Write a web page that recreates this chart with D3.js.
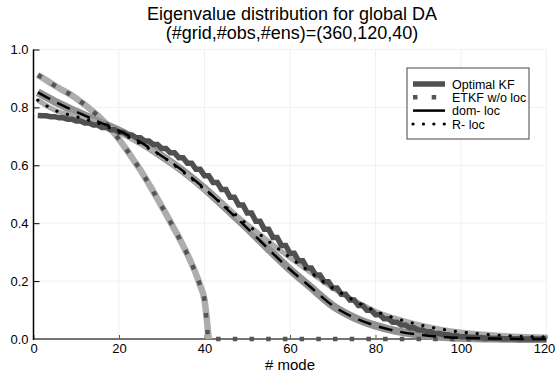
<!DOCTYPE html>
<html>
<head>
<meta charset="utf-8">
<script src="https://cdn.jsdelivr.net/npm/d3@7"></script>
<style>
  body { margin: 0; background: #fff; }
  svg { display: block; font-family: "Liberation Sans", Arial, sans-serif; }
</style>
</head>
<body>
<svg id="chart" width="556" height="373"></svg>
<script>
// eigenvalues
const modes = d3.range(1, 121);
const optimalKF = [
  0.772,
  0.771, 0.771, 0.768, 0.768, 0.764, 0.764, 0.759, 0.759, 0.753, 0.753,
  0.746, 0.746, 0.739, 0.739, 0.731, 0.731, 0.723, 0.723, 0.714, 0.714,
  0.705, 0.705, 0.695, 0.695, 0.684, 0.684, 0.672, 0.672, 0.658, 0.658,
  0.643, 0.643, 0.626, 0.626, 0.607, 0.607, 0.586, 0.586, 0.564, 0.564,
  0.541, 0.541, 0.516, 0.516, 0.490, 0.490, 0.463, 0.463, 0.435, 0.435,
  0.407, 0.407, 0.379, 0.379, 0.351, 0.351, 0.323, 0.323, 0.296, 0.296,
  0.270, 0.270, 0.245, 0.245, 0.221, 0.221, 0.198, 0.198, 0.176, 0.176,
  0.155, 0.155, 0.135, 0.135, 0.116, 0.116, 0.099, 0.099, 0.084, 0.084,
  0.070, 0.070, 0.058, 0.058, 0.048, 0.048, 0.039, 0.039, 0.031, 0.031,
  0.025, 0.025, 0.019, 0.019, 0.015, 0.015, 0.011, 0.011, 0.008, 0.008,
  0.006, 0.006, 0.004, 0.004, 0.003, 0.003, 0.002, 0.002, 0.001, 0.001,
  0.001, 0.001, 0, 0, 0, 0, 0, 0,
  0
];

const etkfModes = d3.range(1, 42).concat([120]);
const etkf = [
  0.912, 0.903, 0.894, 0.884, 0.875, 0.866, 0.858, 0.850, 0.841, 0.831,
  0.820, 0.809, 0.797, 0.785, 0.772, 0.758, 0.743, 0.727, 0.709, 0.690,
  0.670, 0.649, 0.627, 0.606, 0.584, 0.560, 0.535, 0.510, 0.484, 0.458,
  0.432, 0.405, 0.378, 0.351, 0.322, 0.292, 0.260, 0.225, 0.184, 0.135,
  0, 0
];

const locModes = [1, 5, 10, 15, 20, 25, 30, 35, 40, 45, 50, 55, 60, 65, 70, 75, 80, 85, 90, 95, 100, 105, 110, 115, 120];
const domLoc = [0.852, 0.820, 0.785, 0.752, 0.720, 0.680, 0.632, 0.580, 0.520, 0.452, 0.383, 0.310, 0.240, 0.177, 0.115, 0.074, 0.046, 0.027, 0.015, 0.008, 0.004, 0.002, 0.001, 0, 0];
const rLoc = [0.825, 0.790, 0.768, 0.746, 0.715, 0.674, 0.632, 0.577, 0.517, 0.456, 0.396, 0.337, 0.281, 0.228, 0.176, 0.133, 0.096, 0.070, 0.050, 0.035, 0.024, 0.017, 0.012, 0.009, 0.007];

const xTicks = [0, 20, 40, 60, 80, 100, 120];
const yTicks = [0, 0.2, 0.4, 0.6, 0.8, 1.0];
const legendNames = ['Optimal KF', 'ETKF w/o loc', 'dom- loc', 'R- loc'];

const svg = d3.select('#chart');
const x = d3.scaleLinear().domain([0, 120]).range([33.5, 546.5]);
const y = d3.scaleLinear().domain([0, 1]).range([339, 49.5]);

// faint grid
svg.append('g').selectAll('line')
  .data(xTicks.slice(1))
  .enter().append('line')
  .attr('x1', d => x(d)).attr('x2', d => x(d))
  .attr('y1', y(0)).attr('y2', y(1))
  .attr('stroke', '#f1f1f1');
svg.append('g').selectAll('line')
  .data(yTicks.slice(1))
  .enter().append('line')
  .attr('x1', x(0)).attr('x2', x(120))
  .attr('y1', d => y(d)).attr('y2', d => y(d))
  .attr('stroke', '#f1f1f1');

// title
svg.append('text').attr('x', 292).attr('y', 19.5).attr('text-anchor', 'middle')
  .style('font-size', '18px').text('Eigenvalue distribution for global DA');
svg.append('text').attr('x', 292).attr('y', 38.5).attr('text-anchor', 'middle')
  .style('font-size', '18px').text('(#grid,#obs,#ens)=(360,120,40)');

// axes
const yAxis = d3.axisLeft(y).tickValues(yTicks).tickFormat(d3.format('.1f'))
  .tickSize(-6).tickPadding(5);
const gy = svg.append('g').attr('transform', `translate(${x(0)},0)`).call(yAxis);
gy.select('.domain').remove();
gy.selectAll('line').attr('stroke', '#000');
gy.selectAll('text').style('font-size', '13px').attr('fill', '#000');

const xAxis = d3.axisBottom(x).tickValues(xTicks).tickSize(-4).tickPadding(4.5);
const gx = svg.append('g').attr('transform', `translate(0,${y(0)})`).call(xAxis);
gx.select('.domain').remove();
gx.selectAll('line').attr('stroke', '#555');
gx.selectAll('text').style('font-size', '13px').attr('fill', '#000');
// last label sits against the right edge
gx.selectAll('text').filter(d => d === 120).attr('dx', -2.5);

svg.append('line').attr('x1', x(0)).attr('x2', x(120)).attr('y1', y(0)).attr('y2', y(0))
  .attr('stroke', '#747474').attr('stroke-width', 2);
svg.append('line').attr('x1', x(0)).attr('x2', x(0)).attr('y1', y(0) + 1).attr('y2', y(1))
  .attr('stroke', '#000').attr('stroke-width', 1.5);

svg.append('text').attr('x', 290).attr('y', 370).attr('text-anchor', 'middle')
  .style('font-size', '15px').text('# mode');

// curves
const smooth = (xs, vs) => d3.line().x((d, i) => x(xs[i])).y(d => y(d)).curve(d3.curveMonotoneX)(vs);
const straight = (xs, vs) => d3.line().x((d, i) => x(xs[i])).y(d => y(d))(vs);

const plot = svg.append('g').attr('fill', 'none');
plot.append('path').attr('d', smooth(etkfModes.slice(0, 41), etkf.slice(0, 41)))
  .attr('stroke', '#adadad').attr('stroke-width', 6.5);
plot.append('path').attr('d', smooth(locModes, domLoc))
  .attr('stroke', '#929292').attr('stroke-width', 8);
plot.append('path').attr('d', smooth(locModes, rLoc))
  .attr('stroke', '#ababab').attr('stroke-width', 5);
plot.append('path').attr('d', straight(modes, optimalKF))
  .attr('stroke', '#505050').attr('stroke-width', 5.5).attr('stroke-linejoin', 'miter');
plot.append('path').attr('d', smooth(etkfModes, etkf))
  .attr('stroke', '#555').attr('stroke-width', 4.5).attr('stroke-dasharray', '4.5,12.2');
plot.append('path').attr('d', smooth(locModes, domLoc))
  .attr('stroke', '#000').attr('stroke-width', 2.5).attr('stroke-dasharray', '14,8');
plot.append('path').attr('d', smooth(locModes, rLoc))
  .attr('stroke', '#000').attr('stroke-width', 3.2).attr('stroke-linecap', 'round')
  .attr('stroke-dasharray', '0.1,10.9');

// legend
const lg = svg.append('g');
lg.append('rect').attr('x', 407).attr('y', 68).attr('width', 122).attr('height', 71)
  .attr('fill', '#fff').attr('stroke', '#444').attr('stroke-width', 1);
const legendY = [84, 97.3, 110.6, 124];
const legendStyle = [
  { stroke: '#505050', width: 5.5, dash: null, cap: 'butt' },
  { stroke: '#555', width: 4.5, dash: '4.5,14.2', cap: 'butt' },
  { stroke: '#000', width: 2.5, dash: null, cap: 'butt' },
  { stroke: '#000', width: 3.2, dash: '0.1,10.3', cap: 'round' }
];
legendNames.forEach((name, i) => {
  const s = legendStyle[i];
  lg.append('line').attr('x1', 413).attr('x2', 445).attr('y1', legendY[i]).attr('y2', legendY[i])
    .attr('stroke', s.stroke).attr('stroke-width', s.width)
    .attr('stroke-dasharray', s.dash).attr('stroke-linecap', s.cap);
  lg.append('text').attr('x', 452).attr('y', legendY[i]).attr('dy', '0.36em')
    .style('font-size', '12.5px').text(name);
});
</script>
</body>
</html>
